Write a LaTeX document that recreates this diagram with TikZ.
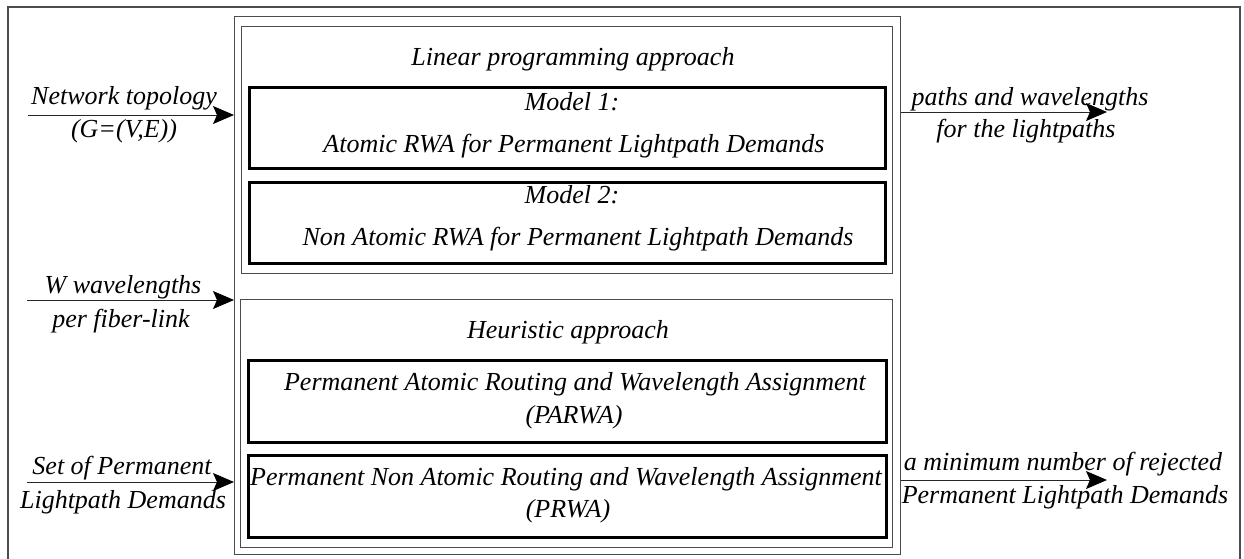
\documentclass[tikz,border=0pt]{standalone}
\usepackage{fontspec}
\setmainfont{Liberation Serif}
\usetikzlibrary{arrows.meta}
\begin{document}
\begin{tikzpicture}[x=0.5pt,y=-0.5pt,
  txt/.style={font=\fontsize{13}{15}\selectfont\itshape, inner sep=0pt, anchor=base},
  thinbox/.style={draw=gray!60!black, line width=0.7pt, inner sep=0pt, anchor=north west},
  thickbox/.style={draw=black, line width=1.4pt, inner sep=0pt, anchor=north west},
  arr/.style={draw=gray!30!black, line width=0.5pt, -{Stealth[length=10.5pt,width=9pt,inset=2pt,black]}}]
\useasboundingbox (0,0) rectangle (1244,558);
% outer frame (bottom edge lies outside the picture)
\draw[gray!60!black, line width=0.6pt] (8,560) -- (8,7) -- (1240,7) -- (1240,560);
% boxes
\node[thinbox, minimum width=666pt*0.5, minimum height=538pt*0.5] (cont) at (234,16) {};
\node[thinbox, minimum width=651pt*0.5, minimum height=247pt*0.5] (lp) at (241,26) {};
\node[thickbox, minimum width=636pt*0.5, minimum height=81pt*0.5] (m1) at (248,86) {};
\node[thickbox, minimum width=636pt*0.5, minimum height=81pt*0.5] (m2) at (248,181) {};
\node[thinbox, minimum width=652pt*0.5, minimum height=248pt*0.5] (heu) at (240,299) {};
\node[thickbox, minimum width=638pt*0.5, minimum height=82pt*0.5] (pa) at (247,359) {};
\node[thickbox, minimum width=638pt*0.5, minimum height=82pt*0.5] (pn) at (247,454) {};
% texts in boxes
\node[txt] (tlp) at (573,65) {Linear programming approach};
\node[txt] (tm1a) at (572,110) {Model 1:};
\node[txt] (tm1b) at (574,152) {Atomic RWA for Permanent Lightpath Demands};
\node[txt] (tm2a) at (572,203) {Model 2:};
\node[txt] (tm2b) at (578,245) {Non Atomic RWA for Permanent Lightpath Demands};
\node[txt] (theu) at (568,338) {Heuristic approach};
\node[txt] (tpaa) at (575,390) {Permanent Atomic Routing and Wavelength Assignment};
\node[txt] (tpab) at (574,423) {(PARWA)};
\node[txt] (tpna) at (566,485) {Permanent Non Atomic Routing and Wavelength Assignment};
\node[txt] (tpnb) at (568,517) {(PRWA)};
% inputs
\coordinate (i1) at (28,115);
\coordinate (i2) at (27,300);
\coordinate (i3) at (27,482);
\draw[arr] (i1) -- (i1 -| cont.west);
\draw[arr] (i2) -- (i2 -| cont.west);
\draw[arr] (i3) -- (i3 -| cont.west);
\node[txt] (l1a) at (124,104) {Network topology};
\node[txt] (l1b) at (124,137) {(G=(V,E))};
\node[txt] (l2a) at (123,293) {W wavelengths};
\node[txt] (l2b) at (121,327) {per fiber-link};
\node[txt] (l3a) at (122,474) {Set of Permanent};
\node[txt] (l3b) at (123,508) {Lightpath Demands};
% outputs
\coordinate (o1) at (1107,112);
\coordinate (o2) at (1107,480);
\draw[arr] (o1 -| cont.east) -- (o1);
\draw[arr] (o2 -| cont.east) -- (o2);
\node[txt] (r1a) at (1030,105) {paths and wavelengths};
\node[txt] (r1b) at (1026,137) {for the lightpaths};
\node[txt] (r2a) at (1063,470) {a minimum number of rejected};
\node[txt] (r2b) at (1065,503) {Permanent Lightpath Demands};
\end{tikzpicture}
\end{document}
